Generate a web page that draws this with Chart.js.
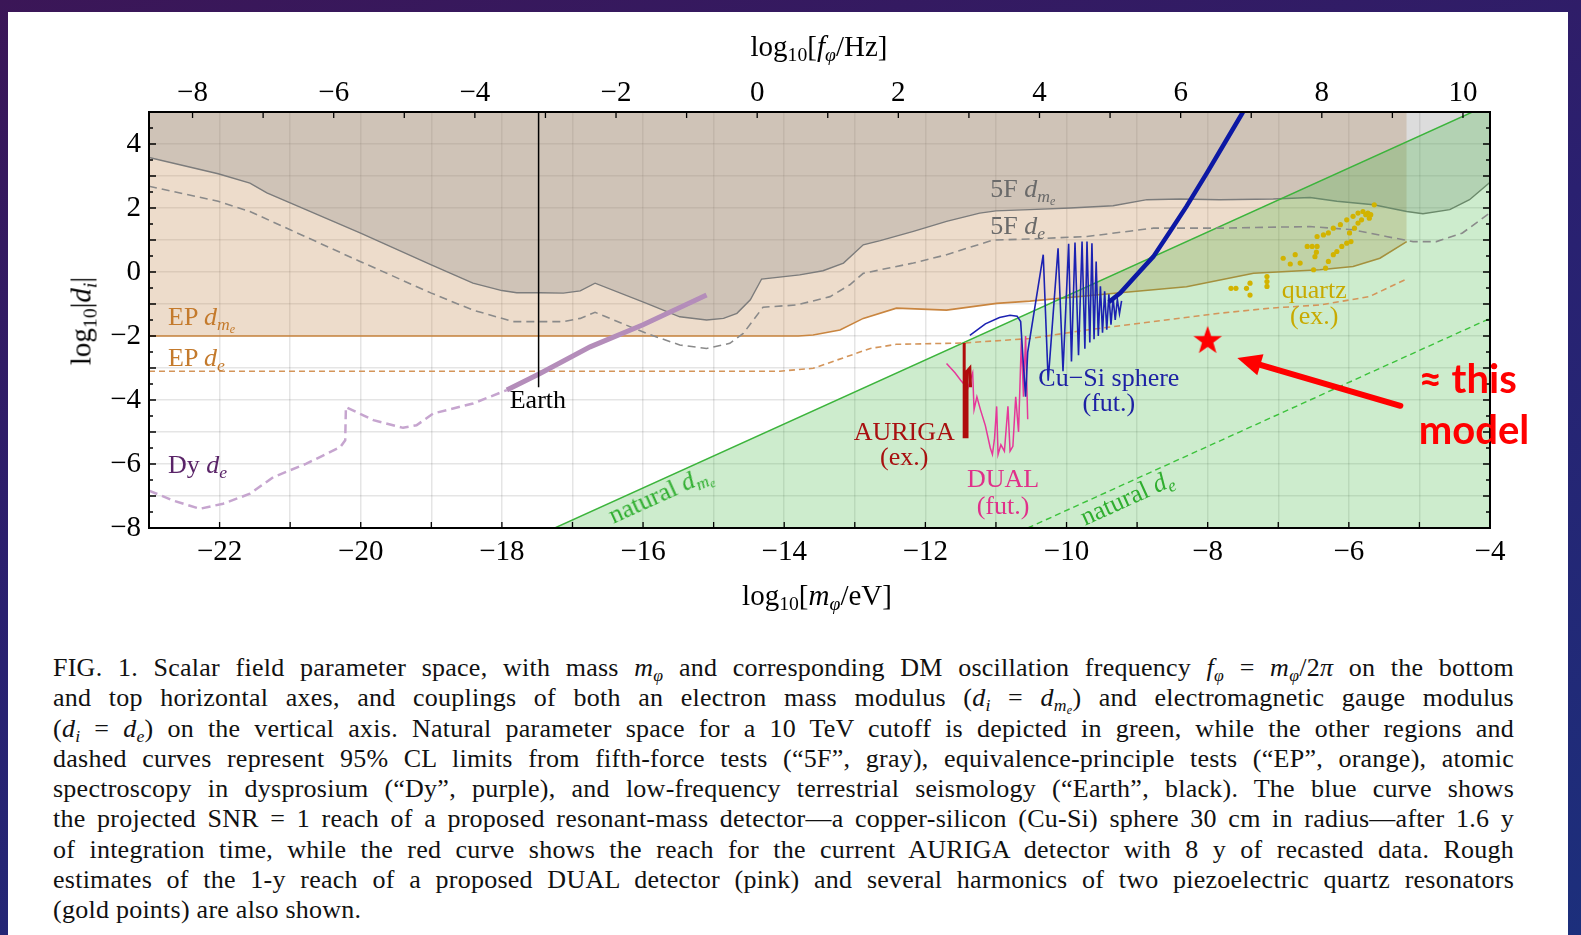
<!DOCTYPE html>
<html>
<head>
<meta charset="utf-8">
<script src="https://cdn.jsdelivr.net/npm/chart.js"></script>
<style>
  body {
    margin: 0; width: 1581px; height: 935px; overflow: hidden; position: relative;
    background: linear-gradient(165deg, #3b1657 0%, #2a2070 45%, #1c2f7c 100%);
    font-family: "Liberation Serif", serif;
  }
  #panel { position: absolute; left: 8px; top: 12px; width: 1560px; height: 923px; background: #fff; }
  #chart { position: absolute; left: 0; top: 0; }
  .lbl { position: absolute; white-space: nowrap; font-family: "Liberation Serif", serif; font-size: 26px; line-height: 1; }
  .axt { position: absolute; white-space: nowrap; font-family: "Liberation Serif", serif; font-size: 29px; line-height: 1; color: #000; }
  sub { font-size: 0.68em; vertical-align: -0.28em; line-height: 0; }
  .lbl.note { font-family: Lato, sans-serif; font-weight: bold; font-size: 40px; }
  #caption { position: absolute; left: 53px; top: 653px; width: 1461px; font-family: "Liberation Serif", serif; font-size: 26px; line-height: 30.25px; letter-spacing: 0.25px; color: #111; }
  #caption div { white-space: nowrap; text-align: justify; text-align-last: justify; }
  #caption div.last { text-align-last: left; }
</style>
</head>
<body>
<div id="panel"></div>
<canvas id="chart" width="1581" height="620"></canvas>
<div id="labels"></div>

<div class="axt" style="left:819px; top:46px; transform:translate(-50%,-50%)">log<sub>10</sub>[<i>f</i><sub><i>φ</i></sub>/Hz]</div>
<div class="axt" style="left:817px; top:595px; transform:translate(-50%,-50%)">log<sub>10</sub>[<i>m</i><sub><i>φ</i></sub>/eV]</div>
<div class="axt" style="left:81px; top:321px; transform:translate(-50%,-50%) rotate(-90deg)">log<sub>10</sub>|<i>d<sub>i</sub></i>|</div>

<div id="caption">
  <div>FIG. 1. Scalar field parameter space, with mass <i>m</i><sub><i>φ</i></sub> and corresponding DM oscillation frequency <i>f</i><sub><i>φ</i></sub> = <i>m</i><sub><i>φ</i></sub>/2<i>π</i> on the bottom</div>
  <div>and top horizontal axes, and couplings of both an electron mass modulus (<i>d<sub>i</sub></i> = <i>d</i><sub><i>m<sub>e</sub></i></sub>) and electromagnetic gauge modulus</div>
  <div>(<i>d<sub>i</sub></i> = <i>d<sub>e</sub></i>) on the vertical axis. Natural parameter space for a 10 TeV cutoff is depicted in green, while the other regions and</div>
  <div>dashed curves represent 95% CL limits from fifth-force tests (“5F”, gray), equivalence-principle tests (“EP”, orange), atomic</div>
  <div>spectroscopy in dysprosium (“Dy”, purple), and low-frequency terrestrial seismology (“Earth”, black). The blue curve shows</div>
  <div>the projected SNR = 1 reach of a proposed resonant-mass detector—a copper-silicon (Cu-Si) sphere 30 cm in radius—after 1.6 y</div>
  <div>of integration time, while the red curve shows the reach for the current AURIGA detector with 8 y of recasted data. Rough</div>
  <div>estimates of the 1-y reach of a proposed DUAL detector (pink) and several harmonics of two piezoelectric quartz resonators</div>
  <div class="last">(gold points) are also shown.</div>
</div>

<script>
// log10(f/Hz) = log10(m/eV) + F_SHIFT
const F_SHIFT = 14.383;

// axis ticks
const massTicks = [-22, -20, -18, -16, -14, -12, -10, -8, -6, -4];
const freqTicks = [-8, -6, -4, -2, 0, 2, 4, 6, 8, 10];
const couplingTicks = [-8, -6, -4, -2, 0, 2, 4];

// 5F d_me boundary (gray region above)
const fiveFdmeX = [-23, -22.02, -21.57, -21.33, -21.0, -20.01, -19.0, -18.41, -18.0, -17.79, -17.46, -17.13, -16.89, -16.68, -15.95, -15.48, -15.10, -14.86, -14.67, -14.48, -14.32, -13.78, -13.45, -13.16, -12.88, -12.64, -12.17, -11.70, -11.23, -11.0, -10.52, -9.95, -9.34, -8.86, -8.39, -7.83, -7.07, -6.55, -6.17, -5.65, -5.18, -4.95, -4.57, -4.29, -4.0];
const fiveFdmeY = [3.58, 3.07, 2.78, 2.47, 2.16, 1.22, 0.22, -0.35, -0.58, -0.65, -0.65, -0.66, -0.59, -0.35, -0.98, -1.40, -1.50, -1.45, -1.29, -0.87, -0.22, -0.09, 0.04, 0.28, 0.85, 0.98, 1.27, 1.58, 1.84, 1.91, 1.95, 2.0, 2.07, 2.26, 2.28, 2.26, 2.28, 2.33, 2.21, 2.10, 1.89, 1.82, 1.95, 2.26, 2.80];

// 5F d_e (dashed gray)
const fiveFdeX = [-23, -22.02, -21.57, -21.0, -20.01, -19.0, -18.41, -17.84, -17.13, -16.89, -16.68, -15.95, -15.48, -15.10, -14.77, -14.58, -14.30, -13.82, -13.35, -13.07, -12.88, -12.17, -11.70, -11.04, -10.52, -9.71, -8.77, -7.83, -6.55, -5.94, -5.47, -5.09, -4.76, -4.39, -4.0];
const fiveFdeY = [2.68, 2.21, 1.89, 1.32, 0.33, -0.66, -1.19, -1.55, -1.55, -1.45, -1.26, -1.92, -2.28, -2.39, -2.23, -1.92, -1.10, -1.03, -0.77, -0.40, -0.04, 0.28, 0.54, 1.0, 1.03, 1.11, 1.37, 1.37, 1.42, 1.32, 1.11, 0.95, 0.95, 1.22, 1.85];

// EP d_me boundary (orange region above)
const epDmeX = [-23, -13.8, -13.59, -13.21, -12.88, -12.41, -11.70, -10.99, -10.52, -9.24, -8.30, -7.35, -6.41, -5.94, -5.56, -5.18];
const epDmeY = [-2.0, -2.0, -1.97, -1.81, -1.45, -1.13, -1.19, -0.98, -0.91, -0.65, -0.46, -0.04, 0.07, 0.17, 0.43, 0.95];

// EP d_e (dashed orange)
const epDeX = [-23, -14.06, -13.59, -13.12, -12.78, -12.41, -11.47, -10.52, -9.71, -8.77, -7.83, -7.12, -6.41, -5.71, -5.21];
const epDeY = [-3.1, -3.1, -3.01, -2.65, -2.39, -2.26, -2.22, -2.08, -1.81, -1.55, -1.29, -1.13, -1.03, -0.77, -0.25];

// Dy d_e (purple)
const dyX = [-23, -22.66, -22.28, -21.95, -21.57, -21.24, -20.77, -20.29, -20.22, -20.21, -19.82, -19.40, -19.21, -18.97, -18.41, -17.93];
const dyY = [-6.83, -7.14, -7.40, -7.24, -6.93, -6.41, -5.99, -5.47, -5.26, -4.22, -4.63, -4.87, -4.79, -4.42, -4.11, -3.69];
const dyThickX = [-17.93, -17.46, -16.75, -16.0, -15.10];
const dyThickY = [-3.69, -3.17, -2.34, -1.65, -0.72];

// Earth
const earthX = [-17.48, -17.48];
const earthY = [5, -3.6];

// natural regions
const natDmeX = [-17.25, -4.25, -4.0];
const natDmeY = [-8, 5, 5];
const natDeX = [-10.55, -4.0];
const natDeY = [-8, -1.45];

// Cu-Si sphere (blue)
const blueX = [-11.37, -11.15, -10.95, -10.80, -10.70, -10.65, -10.62, -10.58, -10.55, -10.33, -10.26, -10.12, -10.05, -9.97, -9.93, -9.88, -9.83, -9.78, -9.74, -9.71, -9.67, -9.64, -9.61, -9.58, -9.55, -9.52, -9.49, -9.46, -9.43, -9.40, -9.37, -9.34, -9.31, -9.28, -9.25, -9.22];
const blueY = [-1.98, -1.62, -1.42, -1.35, -1.38, -1.55, -2.6, -3.9, -2.5, 0.54, -3.4, 0.74, -3.1, 0.88, -2.8, 0.92, -2.6, 0.95, -2.4, 0.95, -2.2, 0.90, -2.1, 0.33, -2.0, -0.45, -1.9, -0.6, -1.8, -0.7, -1.65, -0.8, -1.5, -0.85, -1.3, -0.9];
const blueThickX = [-9.40, -9.24, -8.97, -8.77, -8.54, -8.30, -8.01, -7.73, -7.50];
const blueThickY = [-0.94, -0.66, 0.0, 0.48, 1.24, 2.05, 3.10, 4.14, 5.0];

// AURIGA (red)
const aurigaX = [-11.45, -11.45, -11.41, -11.41, -11.37, -11.36];
const aurigaY = [-2.22, -5.15, -5.15, -3.10, -3.00, -3.60];

// DUAL (pink)
const dualX = [-11.70, -11.58, -11.50, -11.40, -11.33, -11.31, -11.27, -11.22, -11.15, -11.08, -11.05, -11.02, -10.99, -10.97, -10.93, -10.88, -10.83, -10.80, -10.76, -10.72, -10.68, -10.64, -10.61, -10.58, -10.55];
const dualY = [-2.86, -3.15, -3.38, -3.64, -3.15, -4.30, -3.90, -4.30, -4.80, -5.50, -5.70, -5.20, -4.20, -5.70, -5.40, -5.60, -4.20, -5.60, -5.45, -3.90, -5.00, -2.10, -3.90, -2.00, -4.60];

// quartz (gold points)
const quartzX = [-7.67, -7.60, -7.45, -7.40, -7.40, -7.16, -7.16, -7.16, -6.93, -6.83, -6.76, -6.69, -6.59, -6.52, -6.48, -6.50, -6.45, -6.46, -6.45, -6.36, -6.33, -6.29, -6.29, -6.22, -6.22, -6.17, -6.12, -6.10, -6.03, -6.03, -5.97, -5.99, -5.94, -5.92, -5.87, -5.87, -5.82, -5.80, -5.76, -5.73, -5.69, -5.71, -5.64];
const quartzY = [-0.51, -0.51, -0.51, -0.35, -0.72, -0.14, -0.30, -0.45, 0.43, 0.25, 0.54, 0.28, 0.80, 0.80, 0.48, 0.07, 0.80, 0.62, 1.11, 1.16, 0.12, 1.22, 0.33, 0.54, 1.37, 0.64, 1.48, 0.80, 0.90, 1.63, 0.95, 1.22, 1.74, 1.37, 1.53, 1.84, 1.63, 1.89, 1.79, 1.84, 1.79, 1.68, 2.10];

// "this model" star and arrow
const modelStar = [-8.0, -2.12];
const arrowTail = [-5.27, -4.18];
const arrowTip = [-7.58, -2.69];

const textLabels = [
  { x: -22.73, y: -1.41, html: 'EP <i>d</i><sub><i>m<sub>e</sub></i></sub>', color: '#c47a2c' },
  { x: -22.73, y: -2.69, html: 'EP <i>d<sub>e</sub></i>', color: '#c47a2c' },
  { x: -22.73, y: -6.04, html: 'Dy <i>d<sub>e</sub></i>', color: '#5a2468' },
  { x: -17.49, y: -4.0, html: 'Earth', color: '#000', center: true },
  { x: -11.08, y: 2.60, html: '5F <i>d</i><sub><i>m<sub>e</sub></i></sub>', color: '#6a6a6a' },
  { x: -11.08, y: 1.44, html: '5F <i>d<sub>e</sub></i>', color: '#6a6a6a' },
  { x: -12.30, y: -5.01, html: 'AURIGA', color: '#a81010', center: true },
  { x: -12.30, y: -5.79, html: '(ex.)', color: '#a81010', center: true },
  { x: -10.90, y: -6.48, html: 'DUAL', color: '#e0308a', center: true },
  { x: -10.90, y: -7.30, html: '(fut.)', color: '#e0308a', center: true },
  { x: -9.40, y: -3.32, html: 'Cu−Si sphere', color: '#1e22a4', center: true },
  { x: -9.40, y: -4.10, html: '(fut.)', color: '#1e22a4', center: true },
  { x: -6.49, y: -0.56, html: 'quartz', color: '#c8aa00', center: true },
  { x: -6.49, y: -1.38, html: '(ex.)', color: '#c8aa00', center: true },
  { x: -15.76, y: -6.95, html: 'natural <i>d</i><sub><i>m<sub>e</sub></i></sub>', color: '#2fae2f', center: true, slope: 1 },
  { x: -9.14, y: -7.05, html: 'natural <i>d<sub>e</sub></i>', color: '#2fae2f', center: true, slope: 1 },
  { x: -5.01, y: -3.32, html: '≈ this', color: '#ff0000', note: true },
  { x: -5.01, y: -4.92, html: 'model', color: '#ff0000', note: true }
];

const toPts = (xs, ys) => xs.map((x, i) => ({ x: x, y: ys[i] }));
const range = (a, b, s) => { const r = []; for (let v = a; v <= b + 1e-9; v += s) r.push(Math.round(v * 10) / 10); return r; };
const fmt = v => (v < 0 ? '\u2212' + Math.abs(v) : String(v));

const massGrid = range(-23, -4, 1);
const freqMinor = range(-8, 10, 1);
const couplingGrid = range(-8, 5, 1);
const couplingMinor = range(-8, 5, 0.5);

// filled star marker
const starImg = document.createElement('canvas');
starImg.width = 30; starImg.height = 30;
(function () {
  const c = starImg.getContext('2d');
  c.fillStyle = '#ff0000';
  c.beginPath();
  for (let i = 0; i < 10; i++) {
    const r = i % 2 === 0 ? 15 : 6;
    const a = -Math.PI / 2 + i * Math.PI / 5;
    c.lineTo(15 + r * Math.cos(a), 16 + r * Math.sin(a));
  }
  c.closePath();
  c.fill();
})();

const labelHost = document.getElementById('labels');
const labelEls = textLabels.map(l => {
  const d = document.createElement('div');
  d.className = l.note ? 'lbl note' : 'lbl';
  d.style.color = l.color;
  d.innerHTML = l.html;
  labelHost.appendChild(d);
  return d;
});

const overlay = {
  id: 'overlay',
  afterDraw(chart) {
    const { ctx, chartArea: a, scales } = chart;
    const x = scales.x, x2 = scales.x2, y = scales.y;
    ctx.save();
    ctx.strokeStyle = '#000';
    ctx.lineWidth = 1.3;
    ctx.beginPath();
    massGrid.forEach(v => {
      const px = x.getPixelForValue(v);
      ctx.moveTo(px, a.bottom); ctx.lineTo(px, a.bottom - 6);
    });
    freqMinor.forEach(v => {
      const px = x2.getPixelForValue(v);
      if (px > a.left && px < a.right) { ctx.moveTo(px, a.top); ctx.lineTo(px, a.top + 6); }
    });
    couplingMinor.forEach(v => {
      const py = y.getPixelForValue(v);
      const len = Number.isInteger(v) ? 7 : 4;
      ctx.moveTo(a.left, py); ctx.lineTo(a.left + len, py);
      ctx.moveTo(a.right, py); ctx.lineTo(a.right - len, py);
    });
    ctx.stroke();
    ctx.lineWidth = 2;
    ctx.strokeRect(a.left, a.top, a.right - a.left, a.bottom - a.top);

    // arrow pointing at the star
    const tx = x.getPixelForValue(arrowTail[0]), ty = y.getPixelForValue(arrowTail[1]);
    const hx = x.getPixelForValue(arrowTip[0]), hy = y.getPixelForValue(arrowTip[1]);
    const ang = Math.atan2(hy - ty, hx - tx);
    const hl = 24, hw = 11;
    const bx = hx - hl * Math.cos(ang), by = hy - hl * Math.sin(ang);
    ctx.strokeStyle = '#ff0000'; ctx.fillStyle = '#ff0000';
    ctx.lineWidth = 6; ctx.lineCap = 'round';
    ctx.beginPath(); ctx.moveTo(tx, ty); ctx.lineTo(bx, by); ctx.stroke();
    ctx.beginPath();
    ctx.moveTo(hx, hy);
    ctx.lineTo(bx + hw * Math.sin(ang), by - hw * Math.cos(ang));
    ctx.lineTo(bx - hw * Math.sin(ang), by + hw * Math.cos(ang));
    ctx.closePath(); ctx.fill();
    ctx.restore();

    // text labels placed through the scales
    const dxp = x.getPixelForValue(1) - x.getPixelForValue(0);
    const dyp = y.getPixelForValue(1) - y.getPixelForValue(0);
    textLabels.forEach((l, i) => {
      const el = labelEls[i];
      el.style.left = x.getPixelForValue(l.x) + 'px';
      el.style.top = y.getPixelForValue(l.y) + 'px';
      let t = l.center ? 'translate(-50%,-50%)' : 'translate(0,-50%)';
      if (l.slope) t += ' rotate(' + (Math.atan2(dyp * l.slope, dxp) * 180 / Math.PI) + 'deg)';
      el.style.transform = t;
    });
  }
};

const tickFont = { family: 'Liberation Serif', size: 29 };
const gridStyle = { color: 'rgba(0,0,0,0.1)', lineWidth: 1.5, drawTicks: false };

const line = (pts, opts) => Object.assign({ type: 'line', data: pts, xAxisID: 'x', yAxisID: 'y', pointRadius: 0, borderWidth: 1.5, fill: false }, opts);

new Chart(document.getElementById('chart'), {
  type: 'line',
  data: {
    datasets: [
      { type: 'scatter', data: [{ x: modelStar[0], y: modelStar[1] }], xAxisID: 'x', yAxisID: 'y', pointStyle: starImg, pointRadius: 14, order: 0 },
      { type: 'scatter', data: toPts(quartzX, quartzY), xAxisID: 'x', yAxisID: 'y', pointRadius: 2.6, backgroundColor: '#d2b300', borderWidth: 0, order: 1 },
      line(toPts(blueThickX, blueThickY), { borderColor: '#0c18a4', borderWidth: 4.5, order: 2 }),
      line(toPts(blueX, blueY), { borderColor: '#1c22b2', borderWidth: 1.6, order: 3 }),
      line(toPts(aurigaX, aurigaY), { borderColor: '#b00c0c', borderWidth: 3, order: 4 }),
      line(toPts(dualX, dualY), { borderColor: '#e6379a', borderWidth: 1.5, order: 5 }),
      line(toPts(earthX, earthY), { borderColor: '#000', borderWidth: 1.5, order: 6 }),
      line(toPts(dyThickX, dyThickY), { borderColor: '#b48dba', borderWidth: 5, order: 7 }),
      line(toPts(dyX, dyY), { borderColor: '#c6a5cf', borderWidth: 2.5, borderDash: [9, 5], order: 8 }),
      line(toPts(natDeX, natDeY), { borderColor: '#3cc23c', borderWidth: 1.4, borderDash: [6, 4], order: 9 }),
      line(toPts(epDeX, epDeY), { borderColor: '#d4955a', borderWidth: 1.6, borderDash: [6, 4], order: 10 }),
      line(toPts(fiveFdeX, fiveFdeY), { borderColor: '#8a8a8a', borderWidth: 1.6, borderDash: [8, 5], order: 11 }),
      line(toPts(natDmeX, natDmeY), { fill: 'start', backgroundColor: 'rgba(55,179,55,0.25)', borderColor: '#3cb43c', borderWidth: 1.4, order: 12 }),
      line(toPts(fiveFdmeX, fiveFdmeY), { fill: 'end', backgroundColor: 'rgba(128,128,128,0.28)', borderColor: '#7c7c7c', borderWidth: 1.4, order: 13 }),
      line(toPts(epDmeX, epDmeY), { fill: 'end', backgroundColor: 'rgba(195,138,82,0.3)', borderColor: '#c9853f', borderWidth: 1.6, order: 14 })
    ]
  },
  options: {
    responsive: false,
    animation: false,
    events: [],
    layout: { padding: { left: 0, right: 91, top: 0, bottom: 0 } },
    plugins: { legend: { display: false }, tooltip: { enabled: false } },
    scales: {
      x: {
        type: 'linear', position: 'bottom', min: -23, max: -4, z: 1,
        afterBuildTicks: s => { s.ticks = massGrid.map(v => ({ value: v })); },
        afterFit: s => { s.height = 92; },
        ticks: { autoSkip: false, maxRotation: 0, padding: 7, color: '#000', font: tickFont,
          callback: v => (massTicks.includes(v) ? fmt(v) : '') },
        grid: gridStyle,
        border: { display: false }
      },
      x2: {
        type: 'linear', position: 'top', min: -23 + F_SHIFT, max: -4 + F_SHIFT,
        afterBuildTicks: s => { s.ticks = freqTicks.map(v => ({ value: v })); },
        afterFit: s => { s.height = 112; },
        ticks: { autoSkip: false, maxRotation: 0, padding: 1, color: '#000', font: tickFont, callback: v => fmt(v) },
        grid: { display: false, drawTicks: false },
        border: { display: false }
      },
      y: {
        type: 'linear', position: 'left', min: -8, max: 5, z: 1,
        afterBuildTicks: s => { s.ticks = couplingGrid.map(v => ({ value: v })); },
        afterFit: s => { s.width = 149; },
        ticks: { autoSkip: false, padding: 8, color: '#000', font: tickFont,
          callback: v => (couplingTicks.includes(v) ? fmt(v) : '') },
        grid: gridStyle,
        border: { display: false }
      }
    }
  },
  plugins: [overlay]
});
</script>
</body>
</html>
